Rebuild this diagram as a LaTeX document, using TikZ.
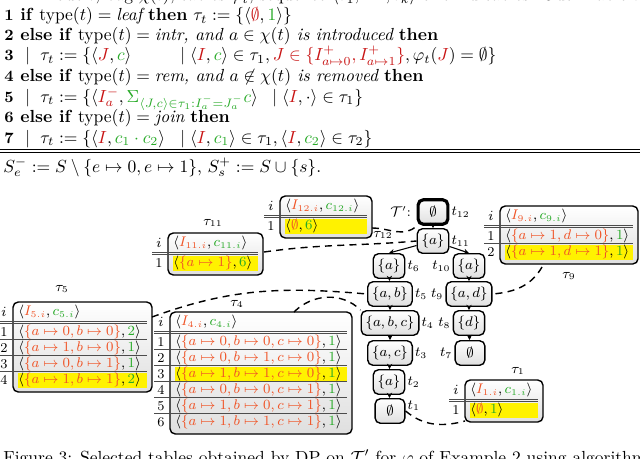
\documentclass[tikz,border=0pt]{standalone}
\usepackage{amsmath,amssymb}
\usetikzlibrary{arrows.meta}
\definecolor{tabred}{RGB}{240,85,40}
\definecolor{tabgreen}{RGB}{40,170,40}
\definecolor{algred}{RGB}{200,20,20}
\newcommand\ro[1]{\textcolor{tabred}{#1}}
\newcommand\gn[1]{\textcolor{tabgreen}{#1}}
\newcommand\ar[1]{\textcolor{algred}{#1}}
\newcommand\rw[2]{$\langle\ro{\{#1\}},\gn{#2}\rangle$}
\newcommand\tabfont{\fontsize{7.7}{9}\selectfont}
\newcommand\tabl[6]{%
 \begin{scope}[shift={(#1,#2)},font=\tabfont]
 \path[tabbox] (0,0) rectangle (#3,{26+#4*16});
 \node[anchor=west,inner sep=0pt] at (5,10) {$\langle\ro{I_{#5.i}},\gn{c_{#5.i}}\rangle$};
 \node at (-9,10) {$i$};
 \draw[gray!60!black] (-16,19) -- (#3-5,19);
 \draw[gray!60!black] (-16,21.5) -- (#3-5,21.5);
 \foreach \t/\h [count=\k] in {#6}{
  \pgfmathsetmacro\yy{21.5+(\k-1)*16}
  \ifnum\h=1 \fill[yellow] (5,\yy+1) rectangle (#3-5,\yy+16); \fi
  \node at (-9,\yy+8.5) {\k};
  \node[anchor=west,inner sep=0pt] at (5,\yy+8.5) {\t};
  \ifnum\k<#4 \draw[gray!60!black] (-16,\yy+16) -- (#3-5,\yy+16); \fi
 }
 \end{scope}}
\begin{document}
\begin{tikzpicture}[x=0.571pt,y=-0.571pt,
 tabbox/.style={draw,line width=0.8pt,rounded corners=3pt,top color=white,bottom color=gray!25},
 tn/.style={draw,line width=0.8pt,rounded corners=3pt,top color=white,bottom color=gray!25,minimum height=14pt,minimum width=17pt,inner sep=2.5pt,font=\tabfont},
 tl/.style={font=\tabfont,inner sep=1pt},
 al/.style={anchor=base west,inner sep=0pt},
 num/.style={anchor=base,inner sep=0pt,font=\bfseries\small},
 con/.style={dashed,line width=0.8pt,dash pattern=on 4pt off 3pt},
 ed/.style={-{Stealth[length=3pt,width=3pt]},line width=0.6pt}]
\useasboundingbox (0,0) rectangle (640,458);
% top cut line
\node[al] (top) at (14,1) {In: Node $t$, bag $\chi(t)$, tables $\varphi_t$, sequence $\langle\tau_1,\dots,\tau_k\rangle$ of child tables. Out: Table $\tau_t$.};
% algorithm
\node[num] (n1) at (9,21) {1};
\node[num] (n2) at (9,41) {2};
\node[num] (n3) at (9,61) {3};
\node[num] (n4) at (9,81) {4};
\node[num] (n5) at (9,102) {5};
\node[num] (n6) at (9,122) {6};
\node[num] (n7) at (9,143) {7};
\node[al] (l1) at (20,21) {\textbf{if} type$(t)=\textit{leaf}$ \textbf{then} $\tau_t:=\{\langle\ar{\emptyset},\gn{1}\rangle\}$};
\node[al] (l2) at (20,41) {\textbf{else if} type$(t)=\textit{intr, and } a\in\chi(t) \textit{ is introduced}$ \textbf{then}};
\node[al] (b3) at (25,61) {$|$};
\node[al] (l3) at (40,61) {$\tau_t:=\{\langle\ar{J},\gn{c}\rangle$};
\node[al] (r3) at (180,61) {$|\;\langle\ar{I},\gn{c}\rangle\in\tau_1,\ar{J\in\{I^+_{a\mapsto 0},I^+_{a\mapsto 1}\}},\varphi_t(\ar{J})=\emptyset\}$};
\node[al] (l4) at (20,81) {\textbf{else if} type$(t)=\textit{rem, and } a\not\in\chi(t) \textit{ is removed}$ \textbf{then}};
\node[al] (b5) at (25,102) {$|$};
\node[al] (l5) at (40,102) {$\tau_t:=\{\langle\ar{I^-_a},\gn{\Sigma_{\langle J,c\rangle\in\tau_1:I^-_a=J^-_a}c}\rangle$};
\node[al] (r5) at (272,102) {$|\;\langle\ar{I},\cdot\rangle\in\tau_1\}$};
\node[al] (l6) at (20,122) {\textbf{else if} type$(t)=\textit{join}$ \textbf{then}};
\node[al] (b7) at (25,143) {$|$};
\node[al] (l7) at (40,143) {$\tau_t:=\{\langle\ar{I},\gn{c_1\cdot c_2}\rangle$};
\node[al] (r7) at (180,143) {$|\;\langle\ar{I},\gn{c_1}\rangle\in\tau_1,\langle\ar{I},\gn{c_2}\rangle\in\tau_2\}$};
\coordinate (rA) at (0,149.5); \coordinate (rB) at (640,149.5);
\coordinate (rC) at (0,152.5); \coordinate (rD) at (640,152.5);
\draw[line width=0.7pt] (rA) -- (rB); \draw[line width=0.7pt] (rC) -- (rD);
\node[al] (sl) at (3,172) {$S^-_e:=S\setminus\{e\mapsto 0,e\mapsto 1\}$, $S^+_s:=S\cup\{s\}$.};
% tree
\node[tn,line width=1.8pt] (t12) at (433,212) {$\emptyset$};
\node[tn] (t11) at (433,241) {$\{a\}$};
\node[tn] (t6) at (389,266) {$\{a\}$};
\node[tn] (t10) at (469,266) {$\{a\}$};
\node[tn] (t5) at (390,294) {$\{a,b\}$};
\node[tn] (t9) at (469,294) {$\{a,d\}$};
\node[tn] (t4) at (390,323) {$\{a,b,c\}$};
\node[tn] (t8) at (469,323) {$\{d\}$};
\node[tn] (t3) at (390,353) {$\{a,c\}$};
\node[tn] (t7) at (470,353) {$\emptyset$};
\node[tn] (t2) at (389,382) {$\{a\}$};
\node[tn] (t1) at (390,411) {$\emptyset$};
\node[tl,anchor=west] at (t12.east) {$t_{12}$};
\node[tl,anchor=east] at ([xshift=-2pt]t12.west) {$\mathcal{T}'$:};
\node[tl,anchor=west] at (t11.east) {$t_{11}$};
\node[tl,anchor=west] at (t6.east) {$t_{6}$};
\node[tl,anchor=east] at (t10.west) {$t_{10}$};
\node[tl,anchor=west] at (t5.east) {$t_{5}$};
\node[tl,anchor=east] at (t9.west) {$t_{9}$};
\node[tl,anchor=west] at (t4.east) {$t_{4}$};
\node[tl,anchor=east] at (t8.west) {$t_{8}$};
\node[tl,anchor=west] at (t3.east) {$t_{3}$};
\node[tl,anchor=east] at (t7.west) {$t_{7}$};
\node[tl,anchor=west] at (t2.east) {$t_{2}$};
\node[tl,anchor=west] at ([yshift=3pt]t1.east) {$t_{1}$};
\draw[ed] (t12) -- (t11);
\draw[ed] (t11) -- (t6.north);
\draw[ed] (t11) -- (t10.north);
\draw[ed] (t6) -- (t5);
\draw[ed] (t5) -- (t4);
\draw[ed] (t4) -- (t3);
\draw[ed] (t3) -- (t2);
\draw[ed] (t2) -- (t1);
\draw[ed] (t10) -- (t9);
\draw[ed] (t9) -- (t8);
\draw[ed] (t8) -- (t7);
% tables
\tabl{280}{196}{92}{1}{12}{{$\langle\ro{\emptyset},\gn{6}\rangle$}/1}
\tabl{168}{233}{95}{1}{11}{{\rw{a\mapsto 1}{6}}/1}
\tabl{500}{206}{138}{2}{9}{{\rw{a\mapsto 1,d\mapsto 0}{1}}/0,{\rw{a\mapsto 1,d\mapsto 1}{1}}/1}
\tabl{13}{302}{139}{4}{5}{{\rw{a\mapsto 0,b\mapsto 0}{2}}/0,{\rw{a\mapsto 1,b\mapsto 0}{1}}/0,{\rw{a\mapsto 0,b\mapsto 1}{1}}/0,{\rw{a\mapsto 1,b\mapsto 1}{2}}/1}
\tabl{170}{312}{182}{6}{4}{{\rw{a\mapsto 0,b\mapsto 0,c\mapsto 0}{1}}/0,{\rw{a\mapsto 0,b\mapsto 1,c\mapsto 0}{1}}/0,{\rw{a\mapsto 1,b\mapsto 1,c\mapsto 0}{1}}/1,{\rw{a\mapsto 0,b\mapsto 0,c\mapsto 1}{1}}/0,{\rw{a\mapsto 1,b\mapsto 0,c\mapsto 1}{1}}/0,{\rw{a\mapsto 1,b\mapsto 1,c\mapsto 1}{1}}/0}
\tabl{465}{380}{78}{1}{1}{{$\langle\ro{\emptyset},\gn{1}\rangle$}/1}
\node[tl] (L12) at (383,235) {$\tau_{12}$};
\node[tl] (L11) at (213,223) {$\tau_{11}$};
\node[tl] (L9) at (569,276) {$\tau_{9}$};
\node[tl] (L5) at (62,289) {$\tau_{5}$};
\node[tl] (L4) at (237,304) {$\tau_{4}$};
\node[tl] (L1) at (518,371) {$\tau_{1}$};
% connectors
\coordinate (c12) at (372,228);
\coordinate (c11) at (264,252);
\coordinate (c9) at (542,267);
\coordinate (c5) at (152,317);
\coordinate (c4) at (294,312);
\coordinate (c1) at (465,421);
\draw[con] (c12) to[out=0,in=225] (t12.south west);
\draw[con] (c11) to[out=8,in=185] (t11.west);
\draw[con] (c5) to[out=20,in=175] (t5.west);
\draw[con] (c4) to[out=45,in=135] (t4.north west);
\draw[con] (c9) to[out=240,in=5] (t9.east);
\draw[con] (t1.east) to[out=-40,in=195] (c1);
% caption (cut)
\node[al] (cap) at (3,463) {Figure 3: Selected tables obtained by DP on $\mathcal{T}'$ for $\varphi$ of Example 2 using algorithm $\mathcal{S}$};
\end{tikzpicture}
\end{document}
